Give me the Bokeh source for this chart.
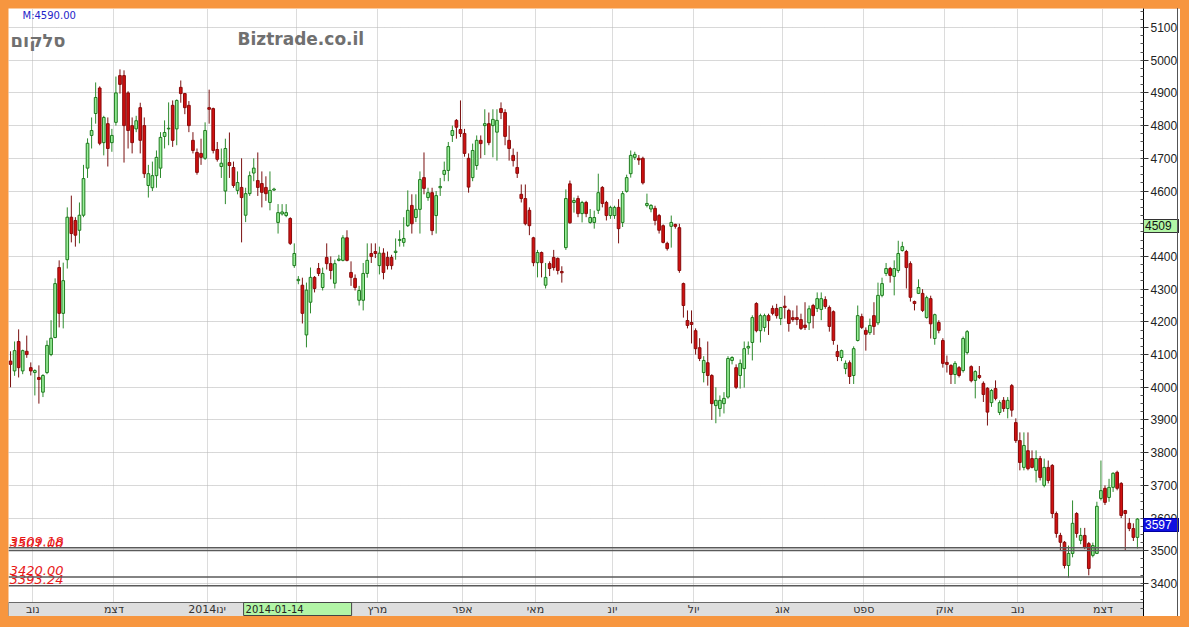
import re
from bokeh.plotting import figure
from bokeh.models import ColumnDataSource, Range1d, FixedTicker, Grid, Label, Span
from bokeh.core.properties import value
from bokeh.embed import file_html
from bokeh.resources import INLINE

# ---------------- data ----------------
opens = [4080,4050,4140,4050,4110,4060,4045,4030,3985,4045,4100,4152,4366,4226,4390,4520,4510,4480,4526,4670,
         4770,4837,4915,4748,4806,4748,4810,4953,4953,4900,4800,4790,4855,4800,4617,4610,4647,4670,4767,4790,
         4862,4790,4917,4898,4862,4755,4718,4715,4700,4855,4852,4727,4675,4600,4687,4672,4602,4611,4526,4592,
         4655,4632,4623,4611,4565,4603,4504,4530,4525,4516,4372,4326,4312,4160,4260,4336,4363,4305,4397,4378,
         4318,4388,4388,4457,4351,4333,4266,4266,4348,4409,4415,4372,4410,4397,4397,4412,4449,4443,4494,4556,
         4519,4544,4641,4580,4595,4525,4610,4651,4663,4770,4816,4788,4776,4700,4641,4678,4755,4800,4806,4800,
         4780,4852,4840,4755,4709,4672,4590,4577,4541,4457,4381,4412,4312,4378,4397,4394,4354,4427,4622,4565,
         4577,4531,4565,4504,4504,4541,4611,4565,4525,4525,4550,4504,4599,4653,4703,4700,4700,4556,4545,4547,
         4525,4494,4440,4492,4498,4488,4317,4204,4198,4173,4121,4045,4075,4036,3944,3935,3950,3970,4082,4060,
         4036,4057,4120,4137,4256,4173,4183,4219,4241,4241,4210,4248,4235,4213,4213,4207,4190,4197,4250,4241,
         4238,4268,4244,4231,4109,4091,4057,4075,4036,4143,4216,4174,4167,4219,4197,4281,4348,4363,4339,4357,
         4418,4415,4378,4262,4287,4287,4213,4271,4149,4198,4143,4076,4067,4039,4060,4051,4106,4063,4021,4036,
         4012,3997,3953,3996,3923,3960,3935,4005,3892,3837,3755,3806,3782,3746,3782,3700,3755,3761,3614,3547,
         3526,3455,3492,3614,3532,3547,3522,3486,3492,3660,3691,3663,3694,3740,3706,3623,3584,3568,3541]
highs = [4110,4140,4177,4115,4158,4076,4055,4067,4040,4143,4205,4333,4388,4381,4550,4586,4520,4565,4680,4761,
         4825,4932,4920,4830,4825,4790,4950,4972,4969,4905,4825,4830,4870,4825,4680,4690,4724,4780,4816,4871,
         4877,4880,4938,4900,4875,4780,4730,4760,4810,4910,4855,4750,4730,4760,4779,4690,4660,4700,4610,4660,
         4700,4718,4660,4645,4660,4610,4560,4560,4560,4520,4440,4340,4335,4320,4366,4340,4380,4366,4440,4400,
         4390,4405,4465,4480,4385,4345,4310,4380,4440,4440,4440,4430,4425,4415,4405,4455,4480,4520,4602,4590,
         4590,4660,4718,4610,4610,4600,4640,4690,4750,4800,4820,4877,4790,4715,4745,4770,4770,4850,4840,4850,
         4850,4871,4850,4800,4730,4720,4620,4620,4550,4460,4420,4415,4380,4385,4420,4397,4370,4605,4632,4580,
         4586,4570,4570,4545,4540,4653,4615,4570,4555,4555,4575,4600,4650,4724,4720,4710,4705,4592,4560,4555,
         4530,4498,4445,4525,4500,4500,4320,4235,4235,4180,4150,4095,4140,4040,4000,3975,3985,4095,4095,4070,
         4085,4140,4140,4220,4260,4225,4225,4225,4250,4255,4245,4280,4240,4235,4250,4225,4260,4250,4255,4290,
         4290,4278,4250,4235,4130,4115,4082,4082,4125,4250,4225,4183,4210,4260,4320,4335,4380,4368,4388,4448,
         4445,4420,4385,4265,4330,4300,4280,4280,4225,4205,4150,4097,4070,4080,4065,4155,4175,4067,4052,4065,
         4018,4000,3995,4021,3960,3970,3970,4010,3905,3862,3862,3862,3807,3807,3790,3782,3776,3765,3620,3555,
         3530,3516,3654,3618,3570,3570,3527,3525,3650,3776,3700,3720,3740,3745,3710,3625,3600,3584,3600]
lows = [4000,4035,4030,4040,4090,4036,3975,3950,3970,4040,4095,4150,4183,4180,4363,4443,4430,4440,4520,4640,
        4730,4806,4740,4709,4675,4720,4800,4898,4687,4730,4715,4780,4715,4640,4580,4600,4610,4640,4730,4740,
        4735,4740,4870,4835,4780,4715,4650,4680,4695,4806,4715,4690,4640,4560,4640,4610,4590,4443,4505,4585,
        4630,4585,4550,4570,4541,4600,4470,4525,4520,4435,4365,4315,4195,4122,4226,4290,4340,4296,4360,4330,
        4302,4385,4385,4385,4310,4296,4250,4235,4335,4380,4395,4345,4330,4360,4360,4390,4430,4430,4490,4470,
        4505,4470,4590,4570,4465,4470,4585,4630,4630,4750,4760,4765,4705,4595,4630,4665,4700,4710,4740,4703,
        4693,4820,4740,4693,4675,4640,4565,4495,4465,4370,4336,4336,4302,4340,4357,4345,4320,4420,4500,4534,
        4520,4504,4520,4500,4485,4530,4550,4510,4515,4515,4440,4490,4595,4641,4695,4680,4620,4550,4535,4495,
        4470,4440,4418,4427,4485,4350,4213,4180,4134,4100,4080,4015,4005,3900,3890,3910,3920,3965,4070,3995,
        3996,3999,4100,4082,4168,4137,4170,4160,4220,4210,4190,4210,4170,4200,4190,4175,4175,4175,4180,4230,
        4205,4240,4170,4130,4080,4080,4040,4010,4010,4140,4178,4112,4160,4160,4190,4275,4340,4320,4281,4350,
        4415,4302,4262,4235,4285,4230,4210,4149,4130,4165,4060,4045,4010,4010,4030,4045,4100,4015,3966,4025,
        3955,3883,3940,3960,3915,3925,3905,3910,3830,3746,3746,3746,3752,3709,3715,3694,3706,3600,3540,3501,
        3446,3418,3480,3540,3520,3505,3425,3480,3490,3654,3640,3650,3680,3685,3600,3501,3560,3530,3507]
closes = [4070,4112,4060,4112,4100,4050,4051,4024,4036,4128,4150,4317,4226,4326,4520,4470,4465,4526,4638,4746,
          4785,4886,4746,4825,4730,4770,4900,4926,4800,4785,4748,4815,4755,4653,4653,4647,4703,4764,4779,4792,
          4755,4877,4898,4855,4800,4724,4657,4703,4785,4850,4724,4697,4685,4730,4678,4617,4626,4580,4592,4647,
          4670,4611,4596,4592,4602,4606,4534,4536,4534,4440,4409,4330,4226,4297,4336,4302,4348,4348,4378,4357,
          4378,4392,4457,4388,4336,4305,4296,4348,4388,4400,4409,4410,4351,4372,4372,4416,4452,4455,4541,4500,
          4544,4635,4608,4595,4479,4586,4614,4663,4736,4785,4795,4776,4715,4612,4724,4755,4745,4806,4748,4819,
          4816,4840,4767,4730,4693,4654,4577,4500,4494,4381,4412,4381,4336,4363,4366,4357,4350,4577,4503,4571,
          4531,4565,4531,4519,4519,4595,4562,4525,4550,4550,4485,4592,4641,4709,4712,4695,4625,4562,4556,4510,
          4480,4443,4424,4504,4492,4357,4250,4189,4192,4118,4088,4082,4036,3950,3960,3960,3966,4088,4091,4000,
          4073,4118,4125,4213,4173,4219,4219,4204,4226,4219,4244,4244,4195,4207,4207,4180,4183,4240,4219,4271,
          4271,4247,4186,4143,4094,4112,4073,4033,4118,4219,4183,4162,4189,4186,4281,4317,4363,4342,4363,4409,
          4430,4366,4275,4256,4305,4235,4274,4194,4222,4174,4073,4070,4039,4073,4036,4149,4170,4020,4048,4030,
          3978,3924,3990,3966,3953,3935,3960,3930,3837,3770,3822,3751,3755,3782,3724,3755,3715,3614,3553,3526,
          3455,3492,3584,3553,3547,3510,3446,3516,3636,3684,3648,3694,3737,3691,3608,3614,3568,3541,3597]

month_labels = ["נוב", "דצמ", "2014ינו", "פבר", "מרץ", "אפר", "מאי", "יונ", "יול", "אוג", "ספט", "אוק", "נוב", "דצמ"]
month_first_idx = [6, 26, 49, 71, 91, 112, 130, 149, 169, 191, 211, 231, 249, 270]

price_ticks = list(range(3400, 5101, 100))
level_values = [3509.18, 3501.00, 3420.00, 3393.24]
marker_value = 4509
last_value = 3597
cursor_date = "2014-01-14"
cursor_day_offset = 9          # trading days after the first of January
cursor_price = "M:4590.00"

# ---------------- layout constants ----------------
FW, FH = 1135, 608
AXIS_W = 35
Y0, Y1 = 3299.1, 5158.1
PX_PER_UNIT = FH / (Y1 - Y0)
band_top = Y0 + 14 / PX_PER_UNIT
band_mid = Y0 + 7 / PX_PER_UNIT

n = len(closes)
IDX_PX = FW / (n + 1)

up = dict(x=[], h=[], l=[], top=[], bottom=[])
dn = dict(x=[], h=[], l=[], top=[], bottom=[])
for i, (o, h, l, c) in enumerate(zip(opens, highs, lows, closes)):
    d = up if c >= o else dn
    d["x"].append(i)
    d["h"].append(max(h, o, c))
    d["l"].append(min(l, o, c))
    d["top"].append(max(o, c))
    d["bottom"].append(min(o, c))

p = figure(frame_width=FW, frame_height=FH,
           x_range=Range1d(-0.5, n + 0.5), y_range=Range1d(Y0, Y1),
           output_backend="svg", toolbar_location=None,
           x_axis_location=None, y_axis_location="right",
           min_border=0, min_border_right=AXIS_W,
           background_fill_color="white", border_fill_color="white",
           outline_line_color=None)

# grids
p.ygrid.ticker = FixedTicker(ticks=price_ticks)
p.ygrid.grid_line_color = "#B0B0B0"
p.ygrid.grid_line_dash = "1 1"
p.xgrid.visible = False
vgrid = Grid(dimension=0, ticker=FixedTicker(ticks=[m - 0.5 for m in month_first_idx]),
             grid_line_color="#B8B8B8", grid_line_dash="1 1")
p.add_layout(vgrid)

# right axis
ax = p.yaxis[0]
ax.ticker = FixedTicker(ticks=price_ticks, minor_ticks=list(range(3300, 5151, 25)))
ax.axis_line_color = "black"
ax.major_tick_in = 0
ax.major_tick_out = 5
ax.minor_tick_in = 3
ax.minor_tick_out = 0
ax.major_tick_line_color = "#333333"
ax.minor_tick_line_color = "#555555"
ax.major_label_standoff = 2
ax.major_label_text_font = "Liberation Sans"
ax.major_label_text_font_size = "12px"
ax.major_label_text_color = "#222222"

# level lines
for v in level_values:
    p.add_layout(Span(location=v, dimension="width", line_color="#5A5A5A", line_width=1.6))

# candles
su = ColumnDataSource(up)
sd = ColumnDataSource(dn)
p.segment(x0="x", y0="h", x1="x", y1="l", source=su, line_color="#2E8B2E", line_width=1)
p.segment(x0="x", y0="h", x1="x", y1="l", source=sd, line_color="#7A1010", line_width=1)
p.vbar(x="x", width=0.66, top="top", bottom="bottom", source=su,
       fill_color="#9AF09A", line_color="#1E7A1E", line_width=1)
p.vbar(x="x", width=0.66, top="top", bottom="bottom", source=sd,
       fill_color="#D01010", line_color="#8A0A0A", line_width=1)

# level labels
p.text(x=[-0.2] * len(level_values), y=level_values, text=[f"{v:.2f}" for v in level_values],
       text_color="#E81818", text_font=value("DejaVu Sans"), text_font_style="italic",
       text_font_size="13px", text_baseline="bottom", text_align="left", y_offset=-2)

# bottom date band
p.quad(left=-0.5, right=n + 0.5, bottom=Y0, top=band_top,
       fill_color="#DEDEDE", line_color="#6A6A6A", line_width=1)
p.text(x=[m - 0.5 for m in month_first_idx], y=[band_mid] * len(month_first_idx), text=month_labels,
       text_align="center", text_baseline="middle", text_font=value("DejaVu Sans"),
       text_font_size="11px", text_color="#333333")

cursor_idx = month_first_idx[2] + cursor_day_offset - 0.5
p.quad(left=cursor_idx, right=cursor_idx + 108 / IDX_PX, bottom=Y0 + 1 / PX_PER_UNIT, top=band_top,
       fill_color="#B2F5A6", line_color="#444444", line_width=1)
p.text(x=[cursor_idx + 2 / IDX_PX], y=[band_top], text=[cursor_date], text_baseline="top",
       text_align="left", text_font=value("DejaVu Sans"), text_font_size="10px",
       text_color="#222222", y_offset=2)

# top-left texts
p.add_layout(Label(x=14, y=FH - 1, x_units="screen", y_units="screen", text=cursor_price,
                   text_baseline="top", text_font="DejaVu Sans", text_font_size="10px",
                   text_color="#2424C8"))
p.add_layout(Label(x=2, y=FH - 32, x_units="screen", y_units="screen", text="סלקום",
                   text_baseline="middle", text_font="DejaVu Sans", text_font_style="bold",
                   text_font_size="18px", text_color="#707070"))
p.add_layout(Label(x=229, y=FH - 30, x_units="screen", y_units="screen", text="Biztrade.co.il",
                   text_baseline="middle", text_font="DejaVu Sans", text_font_style="bold",
                   text_font_size="17px", text_color="#707070"))

html = file_html(p, INLINE, title="chart")

# value boxes on the price axis (outside the plot frame, so drawn as page overlays;
# positions are relative to the body, whose origin is the figure's top-left corner)
def axis_box(v, bg, fg, border):
    top = (Y1 - v) * PX_PER_UNIT - 1
    return (f'<div style="position:absolute;left:{FW}px;top:{top:.1f}px;width:33px;height:12px;'
            f'background:{bg};color:{fg};border:1px solid {border};font:12px \'Liberation Sans\';'
            f'line-height:12px;padding-left:1px;box-sizing:content-box;pointer-events:none;">{v}</div>')

strips = "".join(
    f'<div style="position:absolute;left:{x0}px;top:{FH + 1}px;width:{w}px;height:3px;'
    f'background:#5A5A5A;"></div>' for x0, w in [(205, 30), (244, 31), (285, 31)])
edge = (f'<div style="position:absolute;left:{FW + AXIS_W - 1}px;top:0px;width:1px;'
        f'height:{FH}px;background:#555555;"></div>')
overlay = axis_box(marker_value, "#B2F5A6", "#111111", "#333333") + \
          axis_box(last_value, "#1010E0", "#FFFFFF", "#0000A0") + strips + edge

page_css = ("<style>html{background:#F7963F !important;}"
            "body{background:#F7963F !important;margin:8px !important;padding:0 !important;"
            "height:auto !important;position:relative;}</style>")
html = html.replace("</head>", page_css + "</head>", 1)
html = html.replace("</body>", overlay + "</body>", 1)
open("out.html", "w").write(html)
